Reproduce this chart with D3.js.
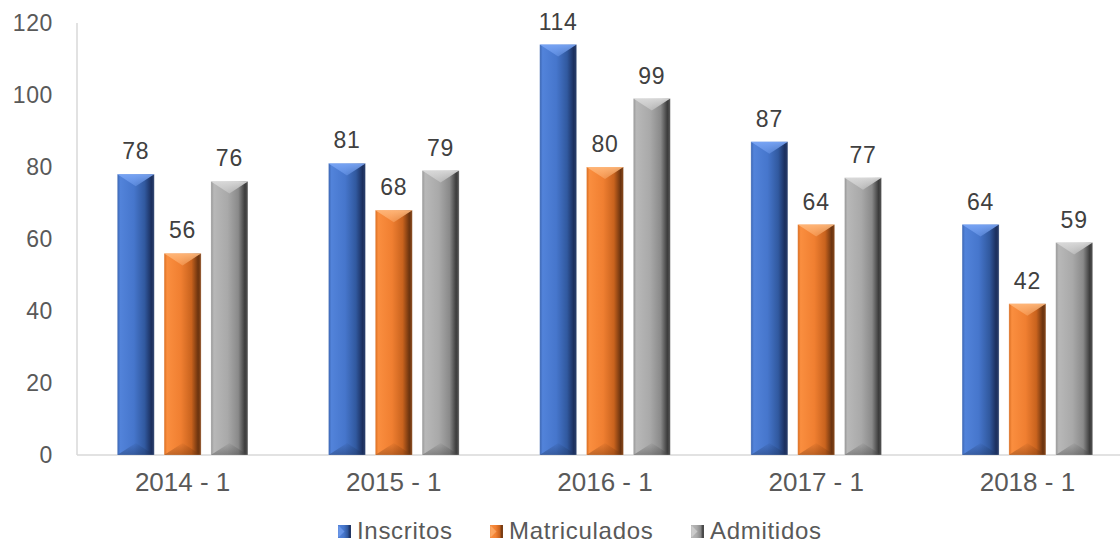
<!DOCTYPE html>
<html>
<head>
<meta charset="utf-8">
<script src="https://cdn.jsdelivr.net/npm/d3@7"></script>
<style>
  body { margin: 0; background: #fff; }
  svg { display: block; font-family: "Liberation Sans", Arial, sans-serif; }
</style>
</head>
<body>
<div id="chart"></div>
<script>
  // data
  let categories = ["2014 - 1", "2015 - 1", "2016 - 1", "2017 - 1", "2018 - 1"];
  let seriesNames = ["Inscritos", "Matriculados", "Admitidos"];
  let inscritos = [78, 81, 114, 87, 64];
  let matriculados = [56, 68, 80, 64, 42];
  let admitidos = [76, 79, 99, 77, 59];
  let yTicks = [0, 20, 40, 60, 80, 100, 120];

  let seriesValues = [inscritos, matriculados, admitidos];

  // colours: gradient stops for each series (light edge, bright, base, shade, dark edge)
  let palettes = [
    { stops: ["#3a64b0", "#5283da", "#4676cc", "#31599f", "#1b2f5e", "#2b406c"], top: "#79a5f5", bottom: "#1e3663" },
    { stops: ["#d86c20", "#fa8e3f", "#f07f31", "#c9631e", "#6a330f", "#8a4a1c"], top: "#ffb77a", bottom: "#7a3a10" },
    { stops: ["#959595", "#b8b8b8", "#a9a9a9", "#8a8a8a", "#3c3c3c", "#555555"], top: "#dadada", bottom: "#4a4a4a" }
  ];

  let width = 1120;
  let height = 544;

  let margin = { top: 23, right: -13, bottom: 89, left: 77 };

  let svg = d3.select("#chart")
              .append("svg")
              .attr("width", width)
              .attr("height", height);

  let defs = svg.append("defs");

  palettes.forEach(function(p, i) {
    let g = defs.append("linearGradient")
                .attr("id", "bar-grad-" + i)
                .attr("x1", "0%").attr("x2", "100%")
                .attr("y1", "0%").attr("y2", "0%");
    let offs = [0, 8, 45, 74, 92, 100];
    offs.forEach(function(o, j) {
      g.append("stop").attr("offset", o + "%").attr("stop-color", p.stops[j]);
    });

    let t = defs.append("linearGradient")
                .attr("id", "top-grad-" + i)
                .attr("x1", "0%").attr("x2", "0%")
                .attr("y1", "0%").attr("y2", "100%");
    t.append("stop").attr("offset", "0%").attr("stop-color", p.top).attr("stop-opacity", 0.95);
    t.append("stop").attr("offset", "100%").attr("stop-color", p.top).attr("stop-opacity", 0.4);

    let b = defs.append("linearGradient")
                .attr("id", "bot-grad-" + i)
                .attr("x1", "0%").attr("x2", "0%")
                .attr("y1", "0%").attr("y2", "100%");
    b.append("stop").attr("offset", "0%").attr("stop-color", p.bottom).attr("stop-opacity", 0.05);
    b.append("stop").attr("offset", "100%").attr("stop-color", p.bottom).attr("stop-opacity", 0.45);
  });

  // scales
  let x0 = d3.scaleBand()
             .domain(categories)
             .range([margin.left, width - margin.right])
             .padding(0);

  let x1 = d3.scaleBand()
             .domain(seriesNames)
             .range([-70, 70])
             .paddingInner(0.21)
             .paddingOuter(0.1);

  let y = d3.scaleLinear()
            .domain([0, 120])
            .range([height - margin.bottom, margin.top]);

  // axes
  let yAxis = svg.append("g")
                 .attr("class", "y-axis")
                 .attr("transform", "translate(" + margin.left + ",0)")
                 .call(d3.axisLeft(y).tickValues(yTicks).tickSize(0).tickPadding(24));
  yAxis.select(".domain").remove();
  yAxis.selectAll("text")
       .attr("fill", "#595959")
       .style("font-size", "23px")
       .style("letter-spacing", "0.6px")
       .attr("dy", "0.34em");

  svg.append("line")
     .attr("x1", margin.left).attr("x2", margin.left)
     .attr("y1", y(120)).attr("y2", y(0))
     .attr("stroke", "#d9d9d9")
     .attr("stroke-width", 1.5);

  let xAxis = svg.append("g")
                 .attr("class", "x-axis")
                 .attr("transform", "translate(0," + y(0) + ")")
                 .call(d3.axisBottom(x0).tickSize(0).tickPadding(18));
  xAxis.select(".domain").remove();
  xAxis.selectAll("text")
       .attr("fill", "#595959")
       .style("font-size", "26px")
       .attr("dy", "0.71em");

  svg.append("line")
     .attr("x1", margin.left).attr("x2", width)
     .attr("y1", y(0)).attr("y2", y(0))
     .attr("stroke", "#d9d9d9")
     .attr("stroke-width", 1.5);

  // bars
  let bw = x1.bandwidth();

  let drawBar = function(parent, si, v) {
    let top = y(v);
    let h = y(0) - top;
    let wedge = Math.min(12, h / 2);
    parent.append("rect")
          .attr("x", 0)
          .attr("y", top)
          .attr("width", bw)
          .attr("height", h)
          .attr("fill", "url(#bar-grad-" + si + ")")
          .attr("stroke", "rgba(255,255,255,0.35)")
          .attr("stroke-width", 0.8);
    parent.append("path")
          .attr("d", "M0," + top + " L" + bw + "," + top + " L" + (bw / 2) + "," + (top + wedge) + " Z")
          .attr("fill", "url(#top-grad-" + si + ")");
    parent.append("path")
          .attr("d", "M0," + y(0) + " L" + bw + "," + y(0) + " L" + (bw / 2) + "," + (y(0) - wedge) + " Z")
          .attr("fill", "url(#bot-grad-" + si + ")");
  };

  let groups = svg.selectAll("g.cat")
                  .data(categories)
                  .enter()
                  .append("g")
                  .attr("class", "cat")
                  .attr("transform", function(d) {
                    return "translate(" + (x0(d) + x0.bandwidth() / 2) + ",0)";
                  });

  groups.each(function(cat, ci) {
    let g = d3.select(this);
    seriesNames.forEach(function(name, si) {
      let v = seriesValues[si][ci];
      let bar = g.append("g")
                 .attr("class", "bar")
                 .attr("transform", "translate(" + x1(name) + ",0)");
      drawBar(bar, si, v);
      g.append("text")
       .attr("x", x1(name) + bw / 2)
       .attr("y", y(v) - 15)
       .attr("text-anchor", "middle")
       .attr("fill", "#404040")
       .style("font-size", "23px")
       .style("letter-spacing", "0.8px")
       .text(v);
    });
  });

  // legend
  let legendX = [338, 490, 691];
  let legend = svg.append("g")
                  .attr("class", "legend")
                  .attr("transform", "translate(0,531)");
  seriesNames.forEach(function(name, si) {
    let item = legend.append("g")
                     .attr("transform", "translate(" + legendX[si] + ",0)");
    item.append("rect")
        .attr("x", 0)
        .attr("y", -6)
        .attr("width", 13)
        .attr("height", 13)
        .attr("fill", "url(#bar-grad-" + si + ")");
    item.append("path")
        .attr("d", "M0,-6 L0,7 L6.5,0.5 Z")
        .attr("fill", palettes[si].top)
        .attr("opacity", 0.6);
    item.append("text")
        .attr("x", 19)
        .attr("y", 0)
        .attr("dy", "0.35em")
        .attr("fill", "#595959")
        .style("font-size", "24px")
        .style("letter-spacing", "0.7px")
        .text(name);
  });
</script>
</body>
</html>
